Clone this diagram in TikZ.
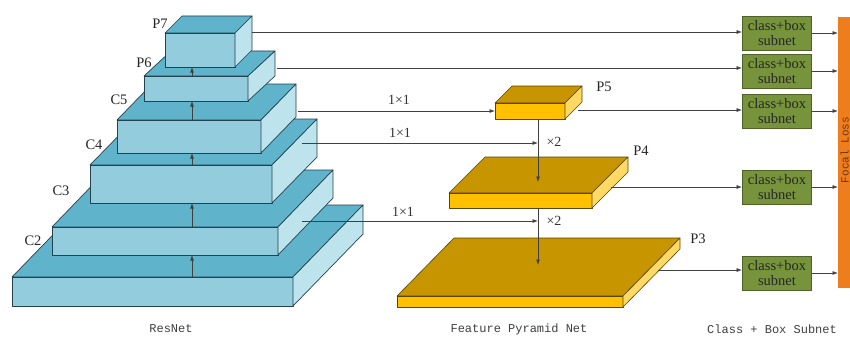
\documentclass[tikz,border=0pt]{standalone}
\usepackage{fontspec}
\setmainfont{Liberation Serif}
\newfontfamily\monofont{Liberation Mono}
\usetikzlibrary{arrows.meta}
\definecolor{tealtop}{HTML}{5FB4CB}
\definecolor{tealfront}{HTML}{93CDDD}
\definecolor{tealside}{HTML}{BDE3EC}
\definecolor{tealline}{HTML}{23424D}
\definecolor{goldtop}{HTML}{C79500}
\definecolor{goldfront}{HTML}{FFC000}
\definecolor{goldside}{HTML}{FFD966}
\definecolor{goldline}{HTML}{5A4500}
\definecolor{subgreen}{HTML}{77933C}
\definecolor{subline}{HTML}{4F6228}
\definecolor{focalor}{HTML}{EE7D1E}
\definecolor{conn}{HTML}{404040}
\newcommand\cubo[9]{%
  \filldraw[fill=#7] (#1,#2) -- ({#1+#5},{#2-#6}) -- ({#3+#5},{#2-#6}) -- (#3,#2) -- cycle;
  \filldraw[fill=#8] (#1,#2) rectangle (#3,#4);
  \filldraw[fill=#9] (#3,#2) -- ({#3+#5},{#2-#6}) -- ({#3+#5},{#4-#6}) -- (#3,#4) -- cycle;
}
\tikzset{
  resbox/.style={draw=tealline, line width=0.7pt, line join=round},
  fpnbox/.style={draw=goldline, line width=0.6pt, line join=round},
  subbox/.style={draw=subline, line width=0.8pt, fill=subgreen, minimum width=69pt, minimum height=34pt,
    inner sep=0pt, align=center, font=\fontsize{14.5}{15}\selectfont, text=black!85},
  conline/.style={draw=conn, line width=0.75pt},
  arr/.style={conline, -{Latex[length=5.5pt,width=4pt]}},
  lbl/.style={font=\fontsize{14.5}{16}\selectfont, text=black!85, inner sep=0pt},
  smalltxt/.style={font=\fontsize{14}{16}\selectfont, text=black!80, inner sep=0pt},
  captxt/.style={font=\monofont\fontsize{12}{14}\selectfont, text=black!75, inner sep=0pt},
}
\begin{document}
\begin{tikzpicture}[x=1pt,y=-1pt]
\useasboundingbox (0,0) rectangle (850,337);
\clip (0,0) rectangle (850,337);
\fill[white] (0,0) rectangle (850,337);

% ResNet pyramid (bottom first)
\begin{scope}[resbox]
\cubo{12}{277}{293}{306}{70}{72}{tealtop}{tealfront}{tealside}
\cubo{52}{227}{278}{255}{55}{57}{tealtop}{tealfront}{tealside}
\cubo{90}{165}{272}{203}{45}{46}{tealtop}{tealfront}{tealside}
\cubo{117}{120}{261}{153}{35}{36}{tealtop}{tealfront}{tealside}
\cubo{144}{76}{248}{101}{27}{25}{tealtop}{tealfront}{tealside}
\cubo{165}{33}{235}{67}{17}{17}{tealtop}{tealfront}{tealside}
\end{scope}

% FPN
\begin{scope}[fpnbox]
\cubo{495}{103}{565}{119}{17}{17}{goldtop}{goldfront}{goldside}
\cubo{449}{193}{592}{208}{36}{36}{goldtop}{goldfront}{goldside}
\cubo{397}{296}{623}{307}{57}{58}{goldtop}{goldfront}{goldside}
\end{scope}

% labels on pyramid
\node[lbl] (lp7) at (160,24) {P7};
\node[lbl] (lp6) at (144,63) {P6};
\node[lbl] (lc5) at (119,100) {C5};
\node[lbl] (lc4) at (94,145) {C4};
\node[lbl] (lc3) at (61,191) {C3};
\node[lbl] (lc2) at (33,241) {C2};
\node[lbl] (lp5) at (604,87) {P5};
\node[lbl] (lp4) at (641,151) {P4};
\node[lbl] (lp3) at (698,239) {P3};

% coordinates
\coordinate (c2t) at (192,277);
\coordinate (c3b) at (192,255);
\coordinate (c3t) at (192,227);
\coordinate (c4b) at (192,203);
\coordinate (c4t) at (192,165);
\coordinate (c5b) at (192,153);
\coordinate (c5t) at (192,120);
\coordinate (p6b) at (192,101);
\coordinate (p6t) at (192,76);
\coordinate (p7b) at (192,67);

\coordinate (p7r) at (252,32);
\coordinate (p6r) at (277,68);
\coordinate (c5r) at (298,111);
\coordinate (c4r) at (302,143);
\coordinate (c3r) at (302,221);
\coordinate (p5l) at (495,111);
\coordinate (p5r) at (578,110);
\coordinate (p5b) at (538,119);
\coordinate (j4) at (538,143);
\coordinate (p4top) at (538,182);
\coordinate (p4b) at (538,208);
\coordinate (j3) at (538,221);
\coordinate (p3top) at (538,265);
\coordinate (p4r) at (611,187);
\coordinate (p3r) at (658,270);

% up arrows in ResNet
\draw[arr] (c2t) -- (c3b);
\draw[arr] (c3t) -- (c4b);
\draw[arr] (c4t) -- (c5b);
\draw[arr] (c5t) -- (p6b);
\draw[arr] (p6t) -- (p7b);

% subnet boxes
\node[subbox] (cb1) at (777,33) {class+box\\subnet};
\node[subbox] (cb2) at (777,71) {class+box\\subnet};
\node[subbox] (cb3) at (777,111) {class+box\\subnet};
\node[subbox] (cb4) at (777,187) {class+box\\subnet};
\node[subbox] (cb5) at (777,273) {class+box\\subnet};

% focal loss bar
\fill[focalor] (838,17) rectangle (870,288);
\coordinate (fl) at (838,150);
\node[font=\monofont\fontsize{11}{13}\selectfont, text={rgb,255:red,110;green,55;blue,10}, rotate=90, anchor=base, inner sep=0pt] (ftxt) at (848.5,150) {Focal Loss};

% lateral connections
\draw[arr] (p7r) -- (p7r -| cb1.west);
\draw[arr] (p6r) -- (p6r -| cb2.west);
\draw[arr] (c5r) -- (p5l);
\draw[arr] (c4r) -- (j4);
\draw[arr] (c3r) -- (j3);
\draw[arr] (p5r) -- (p5r -| cb3.west);
\draw[arr] (p4r) -- (p4r -| cb4.west);
\draw[arr] (p3r) -- (p3r -| cb5.west);

% top-down
\draw[arr] (p5b) -- (p4top);
\draw[arr] (p4b) -- (p3top);

% subnet to focal loss
\foreach \b in {cb1,cb2,cb3,cb4,cb5}{
  \draw[arr] (\b.east) -- (\b.east -| fl);
}

% text labels
\node[smalltxt] (k1) at (399,100) {1×1};
\node[smalltxt] (k2) at (400,133) {1×1};
\node[smalltxt] (k3) at (403,212) {1×1};
\node[smalltxt] (x1) at (554,142) {×2};
\node[smalltxt] (x2) at (554,221) {×2};

\node[captxt] (t1) at (171,329) {ResNet};
\node[captxt] (t2) at (519,329) {Feature Pyramid Net};
\node[captxt] (t3) at (772,329) {Class + Box Subnet};
\end{tikzpicture}
\end{document}
